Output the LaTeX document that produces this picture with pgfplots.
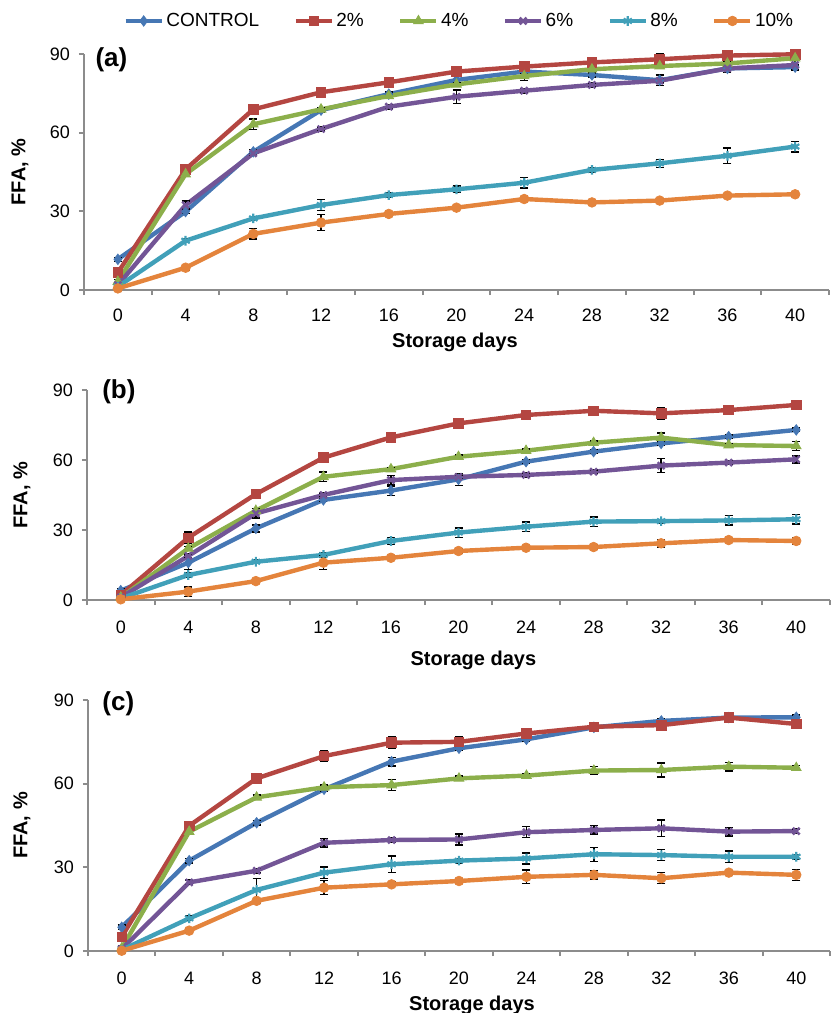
\documentclass[border=0pt]{standalone}
\usepackage{fontspec}
\setmainfont{Liberation Sans}
\usepackage{pgfplots}
\usepackage{pgfplotstable}
\pgfplotsset{compat=1.18}

\definecolor{cCtl}{HTML}{4677B4}
\definecolor{cTwo}{HTML}{B44641}
\definecolor{cFour}{HTML}{8CAF4B}
\definecolor{cSix}{HTML}{735596}
\definecolor{cEight}{HTML}{41A0B9}
\definecolor{cTen}{HTML}{E4843C}
\definecolor{axgray}{HTML}{8C8C8C}

% FFA (%) per storage day, with error (e) columns
\pgfplotstableread{
day  c    ce   p2   p2e  p4   p4e  p6   p6e  p8   p8e  p10  p10e
0    11.7 0.8  6.6  0.8  3.2  0.8  1.9  0.8  1.3  0.8  0.6  0.8
4    29.9 0.8  46.0 0.8  44.2 0.8  32.4 1.5  18.8 0.8  8.5  0.8
8    52.7 0.8  68.9 0.8  63.2 2.0  52.1 0.8  27.3 0.8  21.4 2.0
12   68.6 0.8  75.4 0.8  68.9 0.8  61.4 0.8  32.4 2.0  25.7 3.0
16   74.7 0.8  79.2 0.8  74.0 0.8  69.9 0.8  36.2 0.8  29.0 0.8
20   80.1 1.5  83.3 0.8  78.4 0.8  73.7 2.5  38.4 1.2  31.4 0.8
24   83.3 0.8  85.2 0.8  81.6 1.8  76.0 0.8  40.9 2.0  34.7 0.8
28   82.0 0.8  86.8 0.8  84.2 0.8  78.2 0.8  45.8 0.8  33.4 0.8
32   80.0 2.0  88.0 2.0  85.4 0.8  79.8 0.8  48.3 1.5  34.1 0.8
36   84.5 0.8  89.4 0.8  86.4 0.8  84.5 1.5  51.2 3.0  36.0 0.8
40   85.0 0.8  89.9 0.8  88.4 0.8  85.8 2.0  54.7 2.0  36.5 0.8
}\tabA

\pgfplotstableread{
day  c    ce   p2   p2e  p4   p4e  p6   p6e  p8   p8e  p10  p10e
0    4.0  0.8  2.1  0.8  1.1  0.8  1.1  0.8  0.7  0.8  0.3  0.8
4    16.0 3.0  26.7 2.5  22.1 0.8  18.9 0.8  10.7 0.8  3.6  2.0
8    30.7 1.5  45.4 2.0  38.3 0.8  37.1 2.0  16.4 0.8  8.1  0.8
12   42.9 0.8  61.0 0.8  52.8 2.0  45.0 0.8  19.3 0.8  16.0 3.0
16   46.9 2.0  69.7 2.0  56.1 0.8  51.4 2.0  25.3 1.5  18.1 0.8
20   51.7 2.5  75.7 0.8  61.4 0.8  52.8 0.8  28.9 2.0  21.0 0.8
24   59.3 0.8  79.3 1.5  64.0 0.8  53.6 0.8  31.4 2.0  22.4 0.8
28   63.6 0.8  81.1 0.8  67.4 0.8  55.0 0.8  33.6 2.0  22.7 0.8
32   67.1 0.8  80.0 2.5  69.6 2.0  57.6 3.0  33.8 0.8  24.3 1.5
36   70.0 0.8  81.4 0.8  66.4 0.8  58.9 0.8  34.1 2.0  25.7 0.8
40   72.9 0.8  83.6 0.8  66.0 2.0  60.3 1.5  34.6 2.0  25.3 1.5
}\tabB

\pgfplotstableread{
day  c    ce   p2   p2e  p4   p4e  p6   p6e  p8   p8e  p10  p10e
0    8.5  0.8  5.1  0.8  1.0  0.8  0.7  0.8  0.4  0.8  0.1  0.8
4    32.4 0.8  44.9 0.8  42.8 0.8  24.6 0.8  11.7 0.8  7.3  0.8
8    46.0 0.8  61.9 0.8  55.1 0.8  28.8 0.8  21.9 4.0  18.0 0.8
12   58.0 0.8  69.9 2.0  58.7 0.8  38.8 1.5  28.1 2.0  22.7 2.5
16   67.9 1.5  74.7 2.0  59.5 2.0  39.8 0.8  31.1 3.0  23.9 0.8
20   72.7 0.8  75.0 2.0  61.9 0.8  40.0 2.0  32.4 0.8  25.1 0.8
24   75.9 0.8  78.0 0.8  62.9 0.8  42.6 2.0  33.2 2.0  26.6 2.5
28   80.2 0.8  80.4 0.8  64.7 1.5  43.4 1.5  34.7 2.5  27.3 1.5
32   82.5 0.8  81.0 0.8  64.9 2.5  44.0 3.0  34.4 2.0  26.1 2.0
36   83.7 0.8  83.7 0.8  66.1 1.5  42.8 1.5  33.8 2.0  28.1 0.8
40   83.8 0.8  81.4 0.8  65.7 0.8  43.0 0.8  33.8 0.8  27.3 2.0
}\tabC

\pgfplotsset{
  ffa/.style={
    scale only axis, xmin=-2, xmax=42, ymin=0, ymax=90,
    axis x line*=bottom, axis y line*=left,
    axis line style={-, draw=axgray, line width=1pt},
    xtick={0,4,...,40}, ytick={0,30,60,90},
    minor xtick={-2,2,...,42}, minor ytick={0,30,60,90},
    major tick length=0pt, minor tick length=2.6pt, tick align=outside,
    tick style={draw=axgray, line width=1pt},
    tick label style={font=\fontsize{9}{10}\selectfont},
    yticklabel style={xshift=-3.5pt},
    /pgf/number format/assume math mode=true,
    clip=false,
    xlabel={Storage days}, ylabel={FFA, \%},
    label style={font=\bfseries\fontsize{10}{12}\selectfont},
    every axis plot/.append style={line width=2.2pt},
  },
  ebar/.style={error bars/.cd, y dir=both, y explicit,
    error bar style={black, line width=0.7pt},
    error mark options={rotate=90, black, mark size=2pt, line width=0.7pt}},
}
\tikzset{panel/.style={font=\bfseries\fontsize{13}{15}\selectfont, anchor=west, inner sep=0pt}}

\newcommand{\sixplots}[1]{
  \addplot[cCtl, mark=diamond*, mark size=2.6pt, mark options={solid, line width=0.4pt}, ebar]
    table[x=day, y=c, y error=ce] {#1};
  \addplot[cTwo, mark=square*, mark size=2.4pt, mark options={solid, line width=0.4pt}, ebar]
    table[x=day, y=p2, y error=p2e] {#1};
  \addplot[cFour, mark=triangle*, mark size=2.8pt, mark options={solid, line width=0.4pt}, ebar]
    table[x=day, y=p4, y error=p4e] {#1};
  \addplot[cSix, mark=x, mark size=2.4pt, mark options={solid, line width=1.2pt}, ebar]
    table[x=day, y=p6, y error=p6e] {#1};
  \addplot[cEight, mark=asterisk, mark size=2.4pt, mark options={solid, line width=1.1pt}, ebar]
    table[x=day, y=p8, y error=p8e] {#1};
  \addplot[cTen, mark=*, mark size=2.4pt, mark options={solid, line width=0.4pt}, ebar]
    table[x=day, y=p10, y error=p10e] {#1};
}

\begin{document}
\begin{tikzpicture}
\useasboundingbox (0,0) rectangle (416pt,506.5pt);

% (a)
\begin{axis}[ffa, at={(42pt,361.5pt)}, anchor=south west, width=372.5pt, height=118pt,
  xticklabel style={yshift=-5.8pt},
  xlabel style={at={(axis description cs:0.498,-0.22)}, anchor=center},
  ylabel style={at={(axis description cs:-0.086,0.5)}, anchor=center},
  legend columns=6,
  legend image code/.code={\draw[mark repeat=2, mark phase=2, #1]
    plot coordinates {(0pt,0pt) (9pt,0pt) (18pt,0pt)};},
  legend style={draw=none, fill=none, at={(axis description cs:0.504,1.14)}, anchor=center,
    font=\fontsize{9.5}{11}\selectfont, nodes={inner xsep=1.2pt},
    /tikz/every even column/.append style={column sep=16pt}},
  legend cell align=left]
\sixplots{\tabA}
\legend{CONTROL,2\%,4\%,6\%,8\%,10\%}
\node[panel] at (axis description cs:0.015,0.975) {(a)};
\end{axis}

% (b)
\begin{axis}[ffa, at={(43.5pt,206.5pt)}, anchor=south west, width=371.5pt, height=105pt,
  xticklabel style={yshift=-7pt},
  xlabel style={at={(axis description cs:0.52,-0.286)}, anchor=center},
  ylabel style={at={(axis description cs:-0.0875,0.5)}, anchor=center}]
\sixplots{\tabB}
\node[panel] at (axis description cs:0.02,0.992) {(b)};
\end{axis}

% (c)
\begin{axis}[ffa, at={(44pt,31pt)}, anchor=south west, width=371pt, height=125.5pt,
  xticklabel style={yshift=-7pt},
  xlabel style={at={(axis description cs:0.5175,-0.215)}, anchor=center},
  ylabel style={at={(axis description cs:-0.089,0.5)}, anchor=center}]
\sixplots{\tabC}
\node[panel] at (axis description cs:0.019,0.984) {(c)};
\end{axis}
\end{tikzpicture}
\end{document}
